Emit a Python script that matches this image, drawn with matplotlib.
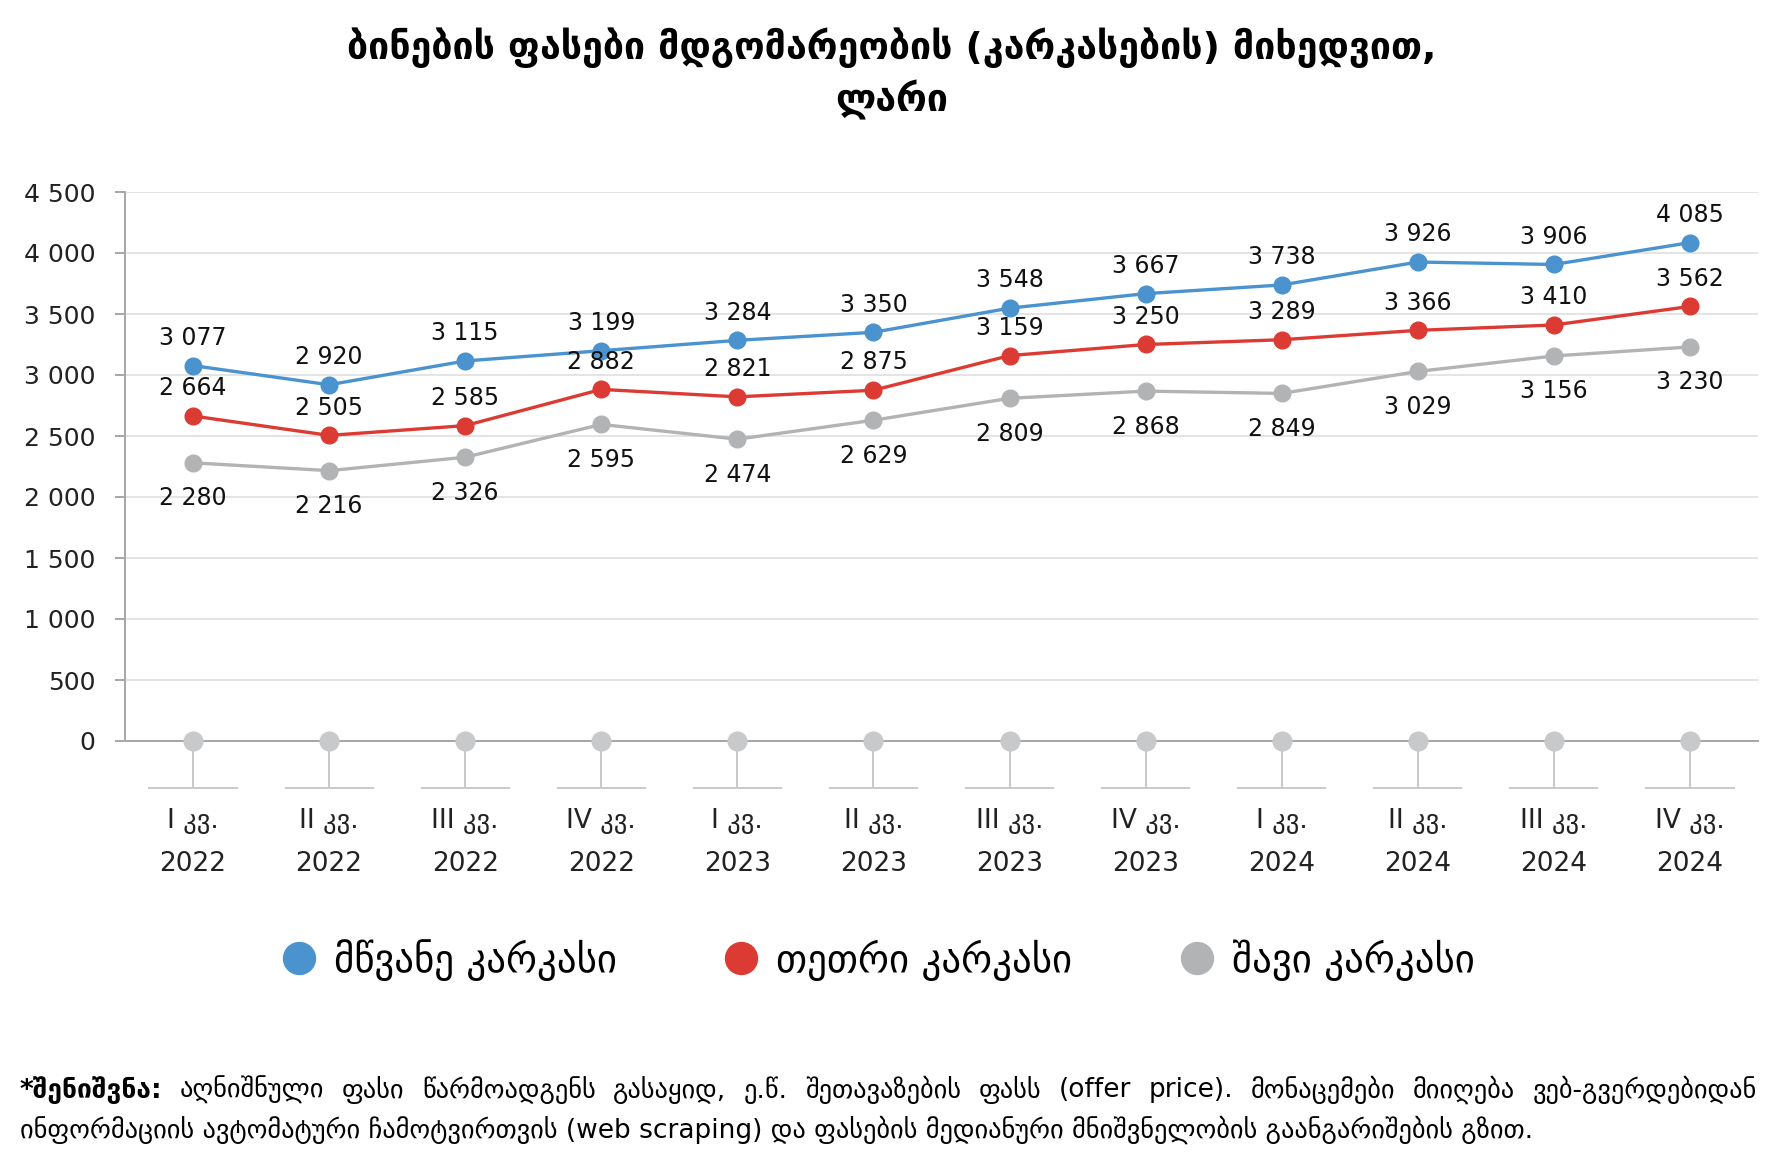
import matplotlib
matplotlib.use("Agg")
import matplotlib.pyplot as plt
import matplotlib.transforms as mtransforms
from matplotlib.lines import Line2D

plt.rcParams['font.family'] = ['DejaVu Sans']

quarters = ["I კვ.", "II კვ.", "III კვ.", "IV კვ."] * 3
years = ["2022"] * 4 + ["2023"] * 4 + ["2024"] * 4
tick_labels = [f"{q}\n{y}" for q, y in zip(quarters, years)]

green_frame = [3077, 2920, 3115, 3199, 3284, 3350, 3548, 3667, 3738, 3926, 3906, 4085]
white_frame = [2664, 2505, 2585, 2882, 2821, 2875, 3159, 3250, 3289, 3366, 3410, 3562]
black_frame = [2280, 2216, 2326, 2595, 2474, 2629, 2809, 2868, 2849, 3029, 3156, 3230]
zero_row = [0] * 12

series_names = ["მწვანე კარკასი", "თეთრი კარკასი", "შავი კარკასი"]
title_line1 = "ბინების ფასები მდგომარეობის (კარკასების) მიხედვით,"
title_line2 = "ლარი"
note_bold = "*შენიშვნა:"
note_line1 = "აღნიშნული ფასი წარმოადგენს გასაყიდ, ე.წ. შეთავაზების ფასს (offer price). მონაცემები მიიღება ვებ-გვერდებიდან"
note_line2 = "ინფორმაციის ავტომატური ჩამოტვირთვის (web scraping) და ფასების მედიანური მნიშვნელობის გაანგარიშების გზით."

BLUE = "#4A93CE"
RED = "#DC3B33"
GRAY = "#B1B3B5"
ZGRAY = "#C8C9CB"
AXC = "#A6A6A6"

W, H = 1783, 1166
fig = plt.figure(figsize=(W / 100, H / 100), dpi=100)
ax = fig.add_axes([125 / W, 1 - 741 / H, (1758 - 125) / W, (741 - 192) / H])

x = list(range(len(tick_labels)))
ax.set_xlim(-0.5, len(x) - 0.5)
ax.set_ylim(0, 4500)
ax.set_yticks(range(0, 4501, 500))
ax.set_yticklabels([f"{v:,}".replace(",", " ") for v in range(0, 4501, 500)], fontsize=18, color="#222222")
ax.yaxis.grid(True, color="#DCDCDC", lw=1.1)
ax.set_axisbelow(True)
ax.tick_params(axis="y", length=7.2, width=1.4, color=AXC, pad=14)

ax.set_xticks(x)
ax.set_xticklabels(tick_labels, fontsize=19, color="#222222", linespacing=1.85)
ax.tick_params(axis="x", length=0, pad=48)

for s in ["top", "right"]:
    ax.spines[s].set_visible(False)
ax.spines["left"].set_color(AXC)
ax.spines["left"].set_linewidth(1.4)
ax.spines["bottom"].set_color(AXC)
ax.spines["bottom"].set_linewidth(1.4)

# decorative category markers below the axis
btrans = mtransforms.blended_transform_factory(ax.transData, ax.transAxes)
seg_y = (741 - 788) / (741 - 192)
for xi in x:
    ax.plot([xi, xi], [0, seg_y], transform=btrans, color=ZGRAY, lw=1.4, clip_on=False, zorder=1)
    ax.plot([xi - 0.32, xi + 0.32], [seg_y, seg_y], transform=btrans, color=ZGRAY, lw=1.4, clip_on=False, zorder=1)
ax.plot(x, zero_row, "o", color=ZGRAY, ms=13.5, clip_on=False, zorder=3)

specs = [(green_frame, BLUE, 20.0), (white_frame, RED, 20.0), (black_frame, GRAY, -25.5)]
for vals, col, off in specs:
    ax.plot(x, vals, "-o", color=col, lw=2.4, ms=12, zorder=4, clip_on=False)
    for xi, v in zip(x, vals):
        ax.annotate(f"{v:,}".replace(",", " "), (xi, v), xytext=(0, off), textcoords="offset points",
                    ha="center", va="center", fontsize=17, color="#111111", zorder=5)

# legend
handles = [Line2D([], [], ls="none", marker="o", ms=23, color=c) for c in (BLUE, RED, GRAY)]
fig.legend(handles, series_names, loc="center", bbox_to_anchor=(0.4923, 1 - 960 / H), ncol=3,
           frameon=False, fontsize=28, handletextpad=0.45, columnspacing=2.75, handlelength=0.9)

# title
fig.text(0.5, 1 - 48 / H, title_line1, ha="center", va="center", fontsize=27, fontweight="bold")
fig.text(0.5, 1 - 100 / H, title_line2, ha="center", va="center", fontsize=27, fontweight="bold")

# justified footnote
fig.canvas.draw()
r = fig.canvas.get_renderer()
left_px, right_px = 20, 1757
y1, y2 = 1 - 1090 / H, 1 - 1130 / H
fs = 19


def width_of(t):
    return t.get_window_extent(renderer=r).width


words = [(note_bold, "bold")] + [(w, "normal") for w in note_line1.split(" ")]
texts = [fig.text(0, y1, w, fontsize=fs, fontweight=fw, va="center", ha="left") for w, fw in words]
widths = [width_of(t) for t in texts]
gap = (right_px - left_px - sum(widths)) / (len(texts) - 1)
cur = left_px
for t, wd in zip(texts, widths):
    t.set_x(cur / W)
    cur += wd + gap
fig.text(left_px / W, y2, note_line2, fontsize=fs, va="center", ha="left")

fig.savefig("out.png", dpi=100)
